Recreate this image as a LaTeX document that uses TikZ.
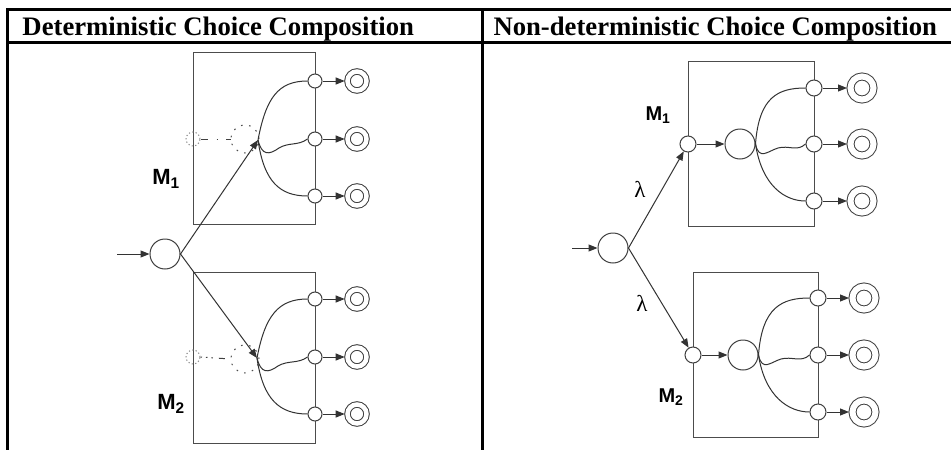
\documentclass[tikz,border=0pt]{standalone}
\usepackage{fontspec}
\setmainfont{Liberation Serif}
\setsansfont{Liberation Sans}
\usetikzlibrary{arrows.meta}
\tikzset{
  mbox/.style={draw=black!70, inner sep=0pt},
  port/.style={circle, draw=black!75, fill=white, minimum size=14pt, inner sep=0pt},
  ghostport/.style={circle, draw=black!45, dash pattern=on 1.2pt off 2.3pt, minimum size=14pt, inner sep=0pt},
  ghoststate/.style={circle, draw=black!70, dash pattern=on 1.6pt off 6.5pt, minimum size=28pt, inner sep=0pt},
  state/.style={circle, draw=black!75, minimum size=30pt, inner sep=0pt},
  accept/.style={circle, draw=black!75, double, double distance=4.5pt, minimum size=19pt, inner sep=0pt, outer sep=2.8pt},
  trans/.style={draw=black!80, ->},
  modlabel/.style={font=\sffamily\bfseries\fontsize{22}{22}\selectfont, inner sep=0pt},
  lam/.style={font=\fontsize{23}{23}\selectfont, inner sep=0pt},
  header/.style={anchor=base west, inner sep=0pt, font=\fontsize{26.7}{30}\selectfont\bfseries}
}
\begin{document}
\begin{tikzpicture}[x=1pt, y=-1pt, line width=1pt, >={Triangle[length=9pt,width=7pt]}]
  \useasboundingbox[fill=white] (0,0) rectangle (951,450);

  % table
  \draw[line width=3pt] (6,9) -- (951,9);
  \draw[line width=3pt] (6,42.5) -- (951,42.5);
  \draw[line width=2.5pt] (7.5,9) -- (7.5,450);
  \draw[line width=2.5pt] (482.5,9) -- (482.5,450);
  \node[header] (hdet) at (22,35) {Deterministic Choice Composition};
  \node[header] (hndet) at (493,35) {Non-deterministic Choice Composition};

  % ---- deterministic choice ----
  \node[state] (lS) at (165,254) {};
  \coordinate (lin) at (117,254);
  \draw[trans] (lin) -- (lS);

  % module M1
  \node[mbox, minimum width=122pt, minimum height=172pt] (lbox1) at (254,138) {};
  \node[modlabel] (lM1) at (166,179) {M\textsubscript{1}};
  \node[ghostport] (lg1) at (193,139) {};
  \node[ghoststate] (lh1) at (245,139) {};
  \draw[black!75, dash pattern=on 7pt off 9pt on 1.5pt off 8pt] (lg1.east) -- (lh1.west);
  \coordinate (lc1) at (258,140);
  \node[port] (lo11) at (315,81) {};
  \node[port] (lo12) at (315,139) {};
  \node[port] (lo13) at (315,196) {};
  \node[accept] (la11) at (357,81) {};
  \node[accept] (la12) at (357,139) {};
  \node[accept] (la13) at (357,196) {};
  \draw[black!80] (lc1) .. controls (266,98) and (278,81) .. (lo11.west);
  \draw[black!80] (lc1) .. controls (262,156) and (269,155) .. (279,148) .. controls (289,142) and (298,146) .. (lo12.west);
  \draw[black!80] (lc1) .. controls (264,182) and (280,196) .. (lo13.west);
  \draw[trans] (lo11) -- (la11);
  \draw[trans] (lo12) -- (la12);
  \draw[trans] (lo13) -- (la13);
  \draw[trans] (lS.east) -- (lc1);

  % module M2
  \node[mbox, minimum width=122pt, minimum height=171pt] (lbox2) at (254,357.5) {};
  \node[modlabel] (lM2) at (171,404) {M\textsubscript{2}};
  \node[ghostport] (lg2) at (193,357) {};
  \node[ghoststate] (lh2) at (245,359) {};
  \draw[black!75, dash pattern=on 1.5pt off 4pt on 1.5pt off 4pt on 1.5pt off 6pt on 6pt off 9pt] (lg2.east) -- (lh2.west);
  \coordinate (lc2) at (257,358);
  \node[port] (lo21) at (315,299) {};
  \node[port] (lo22) at (315,357) {};
  \node[port] (lo23) at (315,414) {};
  \node[accept] (la21) at (357,299) {};
  \node[accept] (la22) at (357,357) {};
  \node[accept] (la23) at (357,414) {};
  \draw[black!80] (lc2) .. controls (265,316) and (278,299) .. (lo21.west);
  \draw[black!80] (lc2) .. controls (261,374) and (268,373) .. (278,366) .. controls (288,360) and (298,364) .. (lo22.west);
  \draw[black!80] (lc2) .. controls (263,400) and (280,414) .. (lo23.west);
  \draw[trans] (lo21) -- (la21);
  \draw[trans] (lo22) -- (la22);
  \draw[trans] (lo23) -- (la23);
  \draw[trans] (lS.east) -- (lc2);

  % ---- non-deterministic choice ----
  \node[state] (rS) at (613,248) {};
  \coordinate (rin) at (572,248);
  \draw[trans] (rin) -- (rS);

  % module M1
  \node[mbox, minimum width=126pt, minimum height=165pt] (rbox1) at (751,143.5) {};
  \node[modlabel, font=\sffamily\bfseries\fontsize{20}{20}\selectfont] (rM1) at (658,115) {M\textsubscript{1}};
  \node[port, minimum size=16pt] (ri1) at (688,144) {};
  \node[state] (rb1) at (740,144) {};
  \node[port, minimum size=16pt] (ro11) at (814,88) {};
  \node[port, minimum size=16pt] (ro12) at (814,144) {};
  \node[port, minimum size=16pt] (ro13) at (814,201) {};
  \node[accept, minimum size=23pt, double distance=6pt, outer sep=3.5pt] (ra11) at (862,88) {};
  \node[accept, minimum size=23pt, double distance=6pt, outer sep=3.5pt] (ra12) at (862,144) {};
  \node[accept, minimum size=23pt, double distance=6pt, outer sep=3.5pt] (ra13) at (862,201) {};
  \draw[trans] (ri1) -- (rb1);
  \draw[black!80] (rb1.east) .. controls (759,97) and (778,88) .. (ro11.west);
  \draw[black!80] (rb1.east) .. controls (759,161) and (768,151) .. (778,148) .. controls (789,145) and (797,152) .. (ro12.west);
  \draw[black!80] (rb1.east) .. controls (762,186) and (785,201) .. (ro13.west);
  \draw[trans] (ro11) -- (ra11);
  \draw[trans] (ro12) -- (ra12);
  \draw[trans] (ro13) -- (ra13);
  \draw[trans] (rS.east) -- (ri1);
  \node[lam] (lam1) at (640,189) {λ};

  % module M2
  \node[mbox, minimum width=125pt, minimum height=165pt] (rbox2) at (755.5,354.5) {};
  \node[modlabel, font=\sffamily\bfseries\fontsize{20}{20}\selectfont] (rM2) at (671,397) {M\textsubscript{2}};
  \node[port, minimum size=16pt] (ri2) at (693,355) {};
  \node[state] (rb2) at (743,355) {};
  \node[port, minimum size=16pt] (ro21) at (818,298) {};
  \node[port, minimum size=16pt] (ro22) at (818,355) {};
  \node[port, minimum size=16pt] (ro23) at (818,412) {};
  \node[accept, minimum size=23pt, double distance=6pt, outer sep=3.5pt] (ra21) at (864,298) {};
  \node[accept, minimum size=23pt, double distance=6pt, outer sep=3.5pt] (ra22) at (864,355) {};
  \node[accept, minimum size=23pt, double distance=6pt, outer sep=3.5pt] (ra23) at (864,412) {};
  \draw[trans] (ri2) -- (rb2);
  \draw[black!80] (rb2.east) .. controls (762,307) and (782,298) .. (ro21.west);
  \draw[black!80] (rb2.east) .. controls (762,372) and (771,362) .. (781,359) .. controls (792,356) and (801,363) .. (ro22.west);
  \draw[black!80] (rb2.east) .. controls (765,397) and (789,412) .. (ro23.west);
  \draw[trans] (ro21) -- (ra21);
  \draw[trans] (ro22) -- (ra22);
  \draw[trans] (ro23) -- (ra23);
  \draw[trans] (rS.east) -- (ri2);
  \node[lam] (lam2) at (642,303) {λ};
\end{tikzpicture}
\end{document}
